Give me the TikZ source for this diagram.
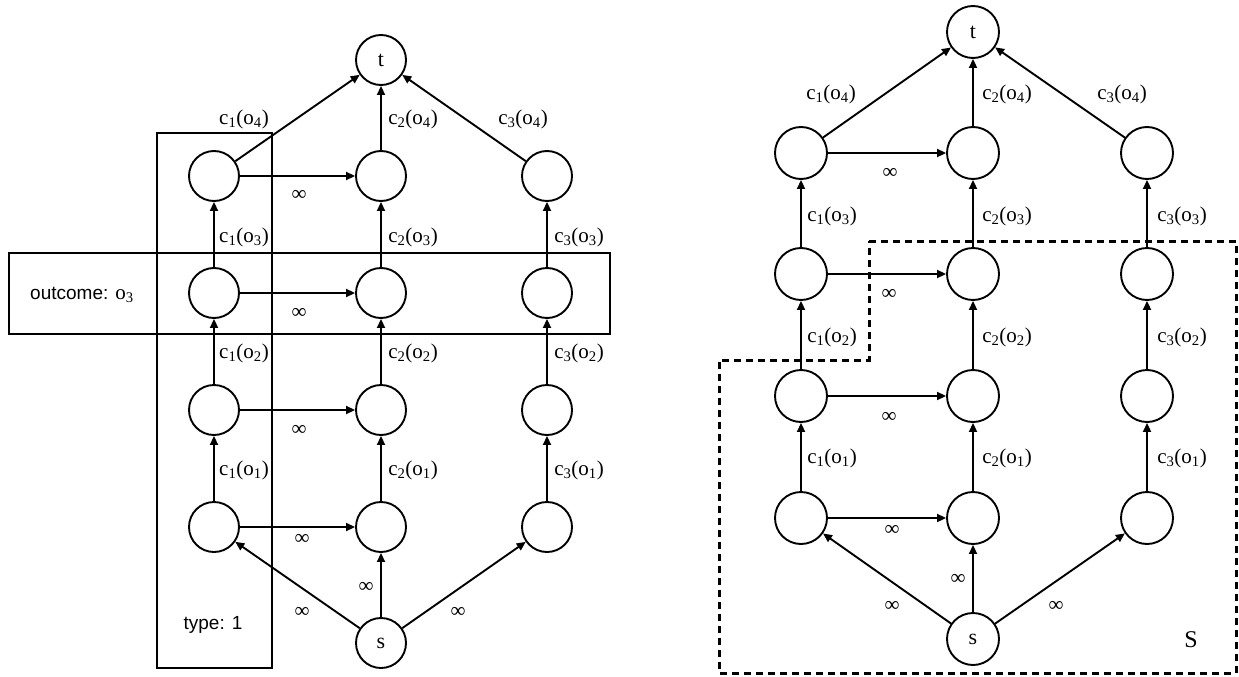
\documentclass[tikz,border=0pt]{standalone}
\usepackage{fontspec}
\setmainfont{Liberation Serif}
\newfontfamily\sansf{Liberation Sans}
\usetikzlibrary{arrows.meta}
\newcommand\cl[2]{c\textsubscript{#1}(o\textsubscript{#2})}
\begin{document}
\begin{tikzpicture}[x=1pt,y=-1pt,
  vtxL/.style={circle, draw, line width=1.9pt, minimum size=50pt, inner sep=0pt, fill=white, font=\fontsize{22}{22}\selectfont},
  vtxR/.style={vtxL, minimum size=52pt},
  edge/.style={line width=1.9pt, -{Triangle[length=9pt,width=8pt]}},
  lab/.style={font=\fontsize{21}{24}\selectfont, inner sep=0pt},
  inf/.style={font=\fontsize{21}{22}\selectfont, inner sep=0pt},
  sbox/.style={draw, line width=1.9pt},
  cut/.style={draw, line width=3pt, dash pattern=on 7pt off 5pt},
]
\useasboundingbox (0,0) rectangle (1239,677);
\fill[white] (0,0) rectangle (1239,677);

% ---------------- left diagram ----------------
\draw[sbox] (157,133) rectangle (272,668);
\draw[sbox] (9,253) rectangle (610,334);
\node[lab] (outc) at (82,295) {{\sansf\fontsize{19}{22}\selectfont outcome:} o\textsubscript{3}};
\node[lab] (typ) at (213,625) {\sansf\fontsize{19}{22}\selectfont type: 1};

\node[vtxL] (Lt) at (381,60) {t};
\node[vtxL] (Ls) at (381,643) {s};
\foreach \c/\x in {1/214,2/381,3/547}
  \foreach \l/\y in {1/527,2/410,3/293,4/176}
    \node[vtxL] (L\c\l) at (\x,\y) {};
\foreach \c in {1,2,3} {
  \draw[edge] (Ls) -- (L\c1);
  \draw[edge] (L\c1) -- (L\c2);
  \draw[edge] (L\c2) -- (L\c3);
  \draw[edge] (L\c3) -- (L\c4);
  \draw[edge] (L\c4) -- (Lt);
}
\foreach \l in {1,2,3,4}
  \draw[edge] (L1\l) -- (L2\l);

\node[lab] (la14) at (244,119) {\cl{1}{4}};
\node[lab] (la24) at (413,119) {\cl{2}{4}};
\node[lab] (la34) at (523,119) {\cl{3}{4}};
\foreach \r/\y in {3/237,2/353,1/470} {
  \node[lab] (la1\r) at (244,\y) {\cl{1}{\r}};
  \node[lab] (la2\r) at (413,\y) {\cl{2}{\r}};
  \node[lab] (la3\r) at (579,\y) {\cl{3}{\r}};
}
\node[inf] (li4) at (299,195) {∞};
\node[inf] (li3) at (299,313) {∞};
\node[inf] (li2) at (299,430) {∞};
\node[inf] (li1) at (302,539) {∞};
\node[inf] (lim) at (366,587) {∞};
\node[inf] (lil) at (302,612) {∞};
\node[inf] (lir) at (458,612) {∞};

% ---------------- right diagram ----------------
\node[vtxR] (Rt) at (973,32) {t};
\node[vtxR] (Rs) at (973,639) {s};
\foreach \c/\x in {1/801,2/973,3/1147}
  \foreach \l/\y in {1/518,2/396,3/274,4/153}
    \node[vtxR] (R\c\l) at (\x,\y) {};
\foreach \c in {1,2,3} {
  \draw[edge] (Rs) -- (R\c1);
  \draw[edge] (R\c1) -- (R\c2);
  \draw[edge] (R\c2) -- (R\c3);
  \draw[edge] (R\c3) -- (R\c4);
  \draw[edge] (R\c4) -- (Rt);
}
\foreach \l in {1,2,3,4}
  \draw[edge] (R1\l) -- (R2\l);

\node[lab] (ra14) at (831,94) {\cl{1}{4}};
\node[lab] (ra24) at (1007,94) {\cl{2}{4}};
\node[lab] (ra34) at (1122,94) {\cl{3}{4}};
\foreach \r/\y in {3/216,2/337,1/458} {
  \node[lab] (ra1\r) at (832,\y) {\cl{1}{\r}};
  \node[lab] (ra2\r) at (1007,\y) {\cl{2}{\r}};
  \node[lab] (ra3\r) at (1182,\y) {\cl{3}{\r}};
}
\node[inf] (ri4) at (890,173) {∞};
\node[inf] (ri3) at (889,294) {∞};
\node[inf] (ri2) at (889,417) {∞};
\node[inf] (ri1) at (892,530) {∞};
\node[inf] (rim) at (958,579) {∞};
\node[inf] (ril) at (892,606) {∞};
\node[inf] (rir) at (1056,606) {∞};

\draw[cut] (869,241) -- (1236,241) -- (1236,673) -- (719,673) -- (719,360) -- (869,360) -- cycle;
\node[lab, font=\fontsize{24}{26}\selectfont] (Slab) at (1191,640) {S};
\end{tikzpicture}
\end{document}
